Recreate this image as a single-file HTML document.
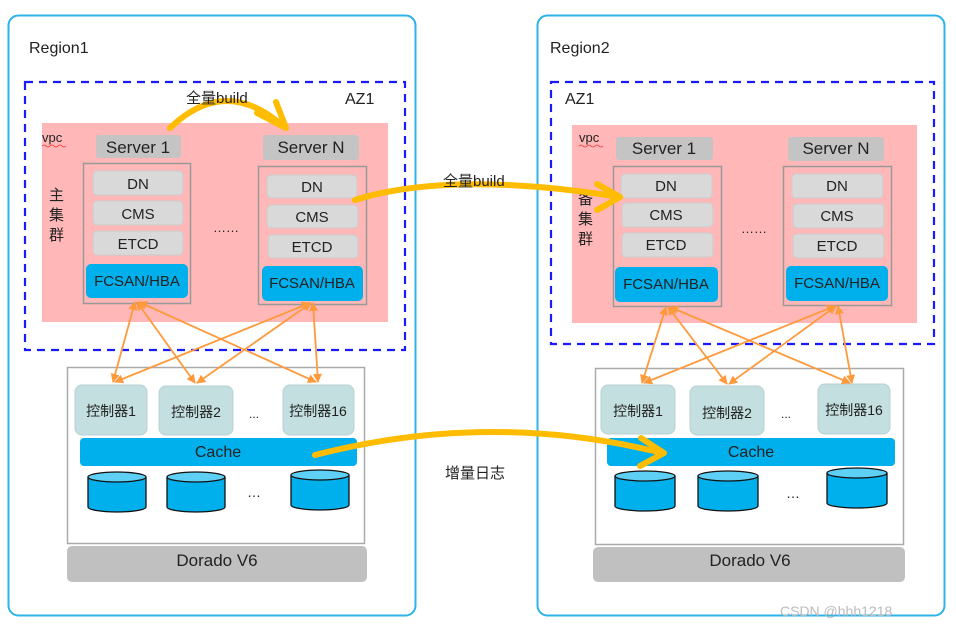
<!DOCTYPE html>
<html><head><meta charset="utf-8"><style>
html,body{margin:0;padding:0;background:#fff;}
svg{display:block;}
text{font-family:"Liberation Sans","Noto Sans CJK SC",sans-serif;fill:#222;}
</style></head><body>
<svg width="956" height="628" viewBox="0 0 956 628" xmlns="http://www.w3.org/2000/svg">
<defs>
<marker id="oa" viewBox="0 0 10 10" refX="9" refY="5" markerWidth="5" markerHeight="5" orient="auto-start-reverse"><path d="M0,0 L10,5 L0,10 z" fill="#ff9a3c"/></marker>
</defs>
<!-- Region boxes -->
<rect x="8.5" y="15.5" width="407" height="600" rx="10" fill="#fff" stroke="#2bb3ea" stroke-width="2"/>
<rect x="537.5" y="15.5" width="407" height="600" rx="10" fill="#fff" stroke="#2bb3ea" stroke-width="2"/>
<text x="29" y="53" font-size="16">Region1</text>
<text x="550" y="53" font-size="16">Region2</text>

<!-- AZ dashed -->
<rect x="25" y="82" width="380" height="268" fill="none" stroke="#1a1aff" stroke-width="2.2" stroke-dasharray="8,6"/>
<rect x="551" y="82" width="383" height="262" fill="none" stroke="#1a1aff" stroke-width="2.2" stroke-dasharray="8,6"/>
<text x="345" y="104" font-size="16">AZ1</text>
<text x="565" y="104" font-size="16">AZ1</text>

<!-- VPC pink -->
<rect x="42" y="123" width="346" height="199" fill="#ffb7b7"/>
<rect x="572" y="125" width="345" height="198" fill="#ffb7b7"/>
<text x="42" y="142" font-size="13">vpc</text>
<text x="579" y="142" font-size="13">vpc</text>
<path d="M42,146 q2,-2 4,0 t4,0 t4,0 t4,0 t4,0 t4,0" fill="none" stroke="#e33" stroke-width="0.8"/>
<path d="M579,146 q2,-2 4,0 t4,0 t4,0 t4,0 t4,0 t4,0" fill="none" stroke="#e33" stroke-width="0.8"/>
<text x="49" y="200" font-size="15">主</text><text x="49" y="220" font-size="15">集</text><text x="49" y="240" font-size="15">群</text>
<text x="578" y="204" font-size="15">备</text><text x="578" y="224" font-size="15">集</text><text x="578" y="244" font-size="15">群</text>

<!-- Left servers -->
<g font-size="16" text-anchor="middle">
<rect x="96" y="135" width="85" height="23" rx="3" fill="#c4c4c4"/><text x="138" y="153" font-size="17">Server 1</text>
<rect x="263" y="135" width="96" height="25" rx="3" fill="#c4c4c4"/><text x="311" y="153" font-size="17">Server N</text>
<rect x="83.5" y="163.5" width="107" height="140" fill="none" stroke="#999" stroke-width="1.5"/>
<rect x="93" y="171" width="90" height="24" rx="4" fill="#d9d9d9" stroke="#ccc"/><text x="138" y="189" font-size="15">DN</text>
<rect x="93" y="201" width="90" height="24" rx="4" fill="#d9d9d9" stroke="#ccc"/><text x="138" y="219" font-size="15">CMS</text>
<rect x="93" y="231" width="90" height="24" rx="4" fill="#d9d9d9" stroke="#ccc"/><text x="138" y="249" font-size="15">ETCD</text>
<rect x="86" y="264" width="102" height="34" rx="5" fill="#00b0ec"/><text x="137" y="286" font-size="15">FCSAN/HBA</text>
<rect x="258.5" y="166.5" width="108" height="138" fill="none" stroke="#999" stroke-width="1.5"/>
<rect x="267" y="175" width="90" height="23" rx="4" fill="#d9d9d9" stroke="#ccc"/><text x="312" y="192" font-size="15">DN</text>
<rect x="267" y="205" width="91" height="23" rx="4" fill="#d9d9d9" stroke="#ccc"/><text x="312" y="222" font-size="15">CMS</text>
<rect x="268" y="235" width="90" height="23" rx="4" fill="#d9d9d9" stroke="#ccc"/><text x="312" y="252" font-size="15">ETCD</text>
<rect x="262" y="266" width="101" height="35" rx="5" fill="#00b0ec"/><text x="312" y="288" font-size="15">FCSAN/HBA</text>
<text x="226" y="232" font-size="13">……</text>

<!-- Right servers -->
<rect x="616" y="137" width="97" height="23" rx="3" fill="#c4c4c4"/><text x="664" y="154" font-size="17">Server 1</text>
<rect x="788" y="137" width="96" height="24" rx="3" fill="#c4c4c4"/><text x="836" y="154" font-size="17">Server N</text>
<rect x="613.5" y="166.5" width="108" height="140" fill="none" stroke="#999" stroke-width="1.5"/>
<rect x="621" y="174" width="91" height="24" rx="4" fill="#d9d9d9" stroke="#ccc"/><text x="666" y="191" font-size="15">DN</text>
<rect x="622" y="203" width="91" height="24" rx="4" fill="#d9d9d9" stroke="#ccc"/><text x="666" y="220" font-size="15">CMS</text>
<rect x="622" y="233" width="91" height="24" rx="4" fill="#d9d9d9" stroke="#ccc"/><text x="666" y="250" font-size="15">ETCD</text>
<rect x="615" y="267" width="103" height="35" rx="5" fill="#00b0ec"/><text x="666" y="289" font-size="15">FCSAN/HBA</text>
<rect x="783.5" y="166.5" width="108" height="139" fill="none" stroke="#999" stroke-width="1.5"/>
<rect x="792" y="174" width="91" height="24" rx="4" fill="#d9d9d9" stroke="#ccc"/><text x="837" y="191" font-size="15">DN</text>
<rect x="793" y="204" width="91" height="24" rx="4" fill="#d9d9d9" stroke="#ccc"/><text x="837" y="221" font-size="15">CMS</text>
<rect x="793" y="234" width="91" height="24" rx="4" fill="#d9d9d9" stroke="#ccc"/><text x="837" y="251" font-size="15">ETCD</text>
<rect x="786" y="266" width="102" height="35" rx="5" fill="#00b0ec"/><text x="837" y="288" font-size="15">FCSAN/HBA</text>
<text x="754" y="233" font-size="13">……</text>
</g>

<!-- Storage left -->
<g text-anchor="middle">
<rect x="67.5" y="367.5" width="297" height="176" fill="#fff" stroke="#aaa" stroke-width="1.5"/>
<rect x="75" y="385" width="72" height="50" rx="7" fill="#c3dfe0" stroke="#b8cfd0"/><text x="111" y="416" font-size="14">控制器1</text>
<rect x="159" y="386" width="74" height="49" rx="7" fill="#c3dfe0" stroke="#b8cfd0"/><text x="196" y="417" font-size="14">控制器2</text>
<rect x="283" y="385" width="71" height="50" rx="7" fill="#c3dfe0" stroke="#b8cfd0"/><text x="318" y="416" font-size="14">控制器16</text>
<text x="254" y="418" font-size="12">...</text>
<rect x="80" y="438" width="277" height="28" rx="4" fill="#00b0ec"/><text x="218" y="457" font-size="16">Cache</text>
<rect x="67" y="546" width="300" height="36" rx="5" fill="#c0c0c0"/><text x="217" y="566" font-size="17">Dorado V6</text>
<text x="254" y="497" font-size="14">…</text>

<rect x="595.5" y="368.5" width="308" height="176" fill="#fff" stroke="#aaa" stroke-width="1.5"/>
<rect x="601" y="385" width="74" height="49" rx="7" fill="#c3dfe0" stroke="#b8cfd0"/><text x="638" y="416" font-size="14">控制器1</text>
<rect x="690" y="386" width="74" height="49" rx="7" fill="#c3dfe0" stroke="#b8cfd0"/><text x="727" y="418" font-size="14">控制器2</text>
<rect x="818" y="384" width="72" height="50" rx="7" fill="#c3dfe0" stroke="#b8cfd0"/><text x="854" y="415" font-size="14">控制器16</text>
<text x="786" y="418" font-size="12">...</text>
<rect x="607" y="438" width="288" height="28" rx="4" fill="#00b0ec"/><text x="751" y="457" font-size="16">Cache</text>
<rect x="593" y="547" width="312" height="35" rx="5" fill="#c0c0c0"/><text x="750" y="566" font-size="17">Dorado V6</text>
<text x="793" y="498" font-size="14">…</text>
</g>

<!-- Cylinders -->
<g stroke="#111" stroke-width="1.3">
<path d="M88,477 v30 a29,5 0 0 0 58,0 v-30" fill="#00b0ec"/><ellipse cx="117" cy="477" rx="29" ry="5" fill="#5fd0f5"/>
<path d="M167,477 v30 a29,5 0 0 0 58,0 v-30" fill="#00b0ec"/><ellipse cx="196" cy="477" rx="29" ry="5" fill="#5fd0f5"/>
<path d="M291,475 v30 a29,5 0 0 0 58,0 v-30" fill="#00b0ec"/><ellipse cx="320" cy="475" rx="29" ry="5" fill="#5fd0f5"/>
<path d="M615,476 v30 a30,5 0 0 0 60,0 v-30" fill="#00b0ec"/><ellipse cx="645" cy="476" rx="30" ry="5" fill="#5fd0f5"/>
<path d="M698,476 v30 a30,5 0 0 0 60,0 v-30" fill="#00b0ec"/><ellipse cx="728" cy="476" rx="30" ry="5" fill="#5fd0f5"/>
<path d="M827,473 v30 a30,5 0 0 0 60,0 v-30" fill="#00b0ec"/><ellipse cx="857" cy="473" rx="30" ry="5" fill="#5fd0f5"/>
</g>

<!-- orange connectors -->
<g stroke="#ff9a3c" stroke-width="1.8" marker-start="url(#oa)" marker-end="url(#oa)" fill="none">
<line x1="135" y1="302" x2="113" y2="382"/>
<line x1="137" y1="302" x2="195" y2="383"/>
<line x1="139" y1="302" x2="316" y2="382"/>
<line x1="310" y1="303" x2="115" y2="382"/>
<line x1="311" y1="303" x2="197" y2="383"/>
<line x1="313" y1="303" x2="318" y2="382"/>
<line x1="666" y1="307" x2="642" y2="383"/>
<line x1="668" y1="307" x2="727" y2="384"/>
<line x1="670" y1="307" x2="850" y2="383"/>
<line x1="835" y1="306" x2="644" y2="383"/>
<line x1="836" y1="306" x2="729" y2="384"/>
<line x1="838" y1="306" x2="852" y2="383"/>
</g>

<!-- yellow arrows -->
<g stroke="#ffbc00" stroke-width="6" fill="none" stroke-linecap="round" stroke-linejoin="round">
<path d="M170,128 Q225,75 283,126"/>
<path d="M257,113 L286,128 L276,102"/>
<path d="M355,200 Q450,170 620,197"/>
<path d="M597,184 L620,197 L597,210"/>
<path d="M315,455 Q490,410 662,453"/>
<path d="M641,438 L664,453 L640,466"/>
</g>
<text x="186" y="103" font-size="15">全量build</text>
<text x="443" y="186" font-size="15">全量build</text>
<text x="445" y="478" font-size="15">增量日志</text>

<text x="780" y="616" font-size="14" style="fill:#bbb">CSDN @hhh1218</text>
</svg>
</body></html>
